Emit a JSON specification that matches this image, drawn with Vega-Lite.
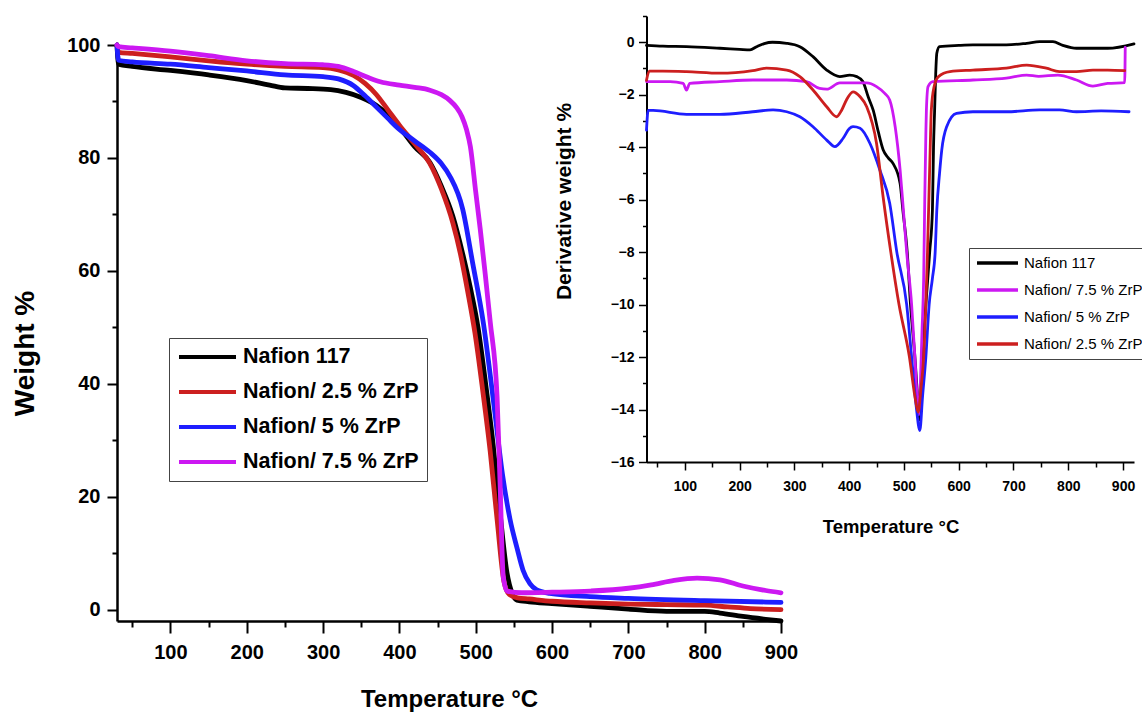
{
"$schema": "https://vega.github.io/schema/vega-lite/v6.json",
"autosize": {"type": "none"},
"padding": {"left": 117, "top": 16, "right": 8, "bottom": 91},
"width": 1017,
"height": 605,
"background": "white",
"config": {"view": {"stroke": null}, "axis": {"grid": false, "domainColor": "#000", "tickColor": "#000", "labelColor": "#000", "titleColor": "#000", "labelFlush": false, "labelOverlap": false}},
"datasets": {
"tga": [
{"s":"Nafion 117","T":30,"w":100},{"s":"Nafion 117","T":32,"w":96.6},{"s":"Nafion 117","T":50,"w":96.2},{"s":"Nafion 117","T":100,"w":95.5},{"s":"Nafion 117","T":150,"w":94.7},{"s":"Nafion 117","T":200,"w":93.7},{"s":"Nafion 117","T":230,"w":92.9},{"s":"Nafion 117","T":250,"w":92.4},{"s":"Nafion 117","T":280,"w":92.3},{"s":"Nafion 117","T":310,"w":92.1},{"s":"Nafion 117","T":330,"w":91.6},{"s":"Nafion 117","T":350,"w":90.7},{"s":"Nafion 117","T":370,"w":89.3},{"s":"Nafion 117","T":390,"w":87},{"s":"Nafion 117","T":405,"w":84.6},{"s":"Nafion 117","T":420,"w":82},{"s":"Nafion 117","T":440,"w":79.2},{"s":"Nafion 117","T":455,"w":75},{"s":"Nafion 117","T":470,"w":69.7},{"s":"Nafion 117","T":483,"w":63},{"s":"Nafion 117","T":493,"w":57},{"s":"Nafion 117","T":503,"w":50},{"s":"Nafion 117","T":513,"w":40},{"s":"Nafion 117","T":523,"w":29},{"s":"Nafion 117","T":532,"w":17},{"s":"Nafion 117","T":541,"w":6.5},{"s":"Nafion 117","T":548,"w":2.8},{"s":"Nafion 117","T":554,"w":1.7},{"s":"Nafion 117","T":570,"w":1.4},{"s":"Nafion 117","T":600,"w":1.1},{"s":"Nafion 117","T":650,"w":0.6},{"s":"Nafion 117","T":700,"w":0.1},{"s":"Nafion 117","T":750,"w":-0.3},{"s":"Nafion 117","T":800,"w":-0.3},{"s":"Nafion 117","T":820,"w":-0.6},{"s":"Nafion 117","T":850,"w":-1.2},{"s":"Nafion 117","T":880,"w":-1.7},{"s":"Nafion 117","T":900,"w":-2},
{"s":"Nafion/ 2.5 % ZrP","T":30,"w":100},{"s":"Nafion/ 2.5 % ZrP","T":32,"w":98.7},{"s":"Nafion/ 2.5 % ZrP","T":50,"w":98.5},{"s":"Nafion/ 2.5 % ZrP","T":100,"w":97.9},{"s":"Nafion/ 2.5 % ZrP","T":150,"w":97.2},{"s":"Nafion/ 2.5 % ZrP","T":200,"w":96.6},{"s":"Nafion/ 2.5 % ZrP","T":250,"w":96.2},{"s":"Nafion/ 2.5 % ZrP","T":300,"w":96.0},{"s":"Nafion/ 2.5 % ZrP","T":320,"w":95.6},{"s":"Nafion/ 2.5 % ZrP","T":340,"w":94.6},{"s":"Nafion/ 2.5 % ZrP","T":355,"w":93.2},{"s":"Nafion/ 2.5 % ZrP","T":370,"w":91.2},{"s":"Nafion/ 2.5 % ZrP","T":385,"w":88.5},{"s":"Nafion/ 2.5 % ZrP","T":400,"w":85.8},{"s":"Nafion/ 2.5 % ZrP","T":420,"w":82.5},{"s":"Nafion/ 2.5 % ZrP","T":440,"w":79},{"s":"Nafion/ 2.5 % ZrP","T":455,"w":74.5},{"s":"Nafion/ 2.5 % ZrP","T":470,"w":68.5},{"s":"Nafion/ 2.5 % ZrP","T":480,"w":63},{"s":"Nafion/ 2.5 % ZrP","T":490,"w":56},{"s":"Nafion/ 2.5 % ZrP","T":499,"w":49},{"s":"Nafion/ 2.5 % ZrP","T":509,"w":39},{"s":"Nafion/ 2.5 % ZrP","T":519,"w":28},{"s":"Nafion/ 2.5 % ZrP","T":528,"w":16},{"s":"Nafion/ 2.5 % ZrP","T":537,"w":5},{"s":"Nafion/ 2.5 % ZrP","T":544,"w":2.7},{"s":"Nafion/ 2.5 % ZrP","T":555,"w":2.1},{"s":"Nafion/ 2.5 % ZrP","T":570,"w":1.9},{"s":"Nafion/ 2.5 % ZrP","T":600,"w":1.5},{"s":"Nafion/ 2.5 % ZrP","T":650,"w":1.2},{"s":"Nafion/ 2.5 % ZrP","T":700,"w":1.0},{"s":"Nafion/ 2.5 % ZrP","T":750,"w":0.9},{"s":"Nafion/ 2.5 % ZrP","T":800,"w":0.8},{"s":"Nafion/ 2.5 % ZrP","T":830,"w":0.5},{"s":"Nafion/ 2.5 % ZrP","T":860,"w":0.2},{"s":"Nafion/ 2.5 % ZrP","T":900,"w":0},
{"s":"Nafion/ 5 % ZrP","T":30,"w":100},{"s":"Nafion/ 5 % ZrP","T":32,"w":97.3},{"s":"Nafion/ 5 % ZrP","T":50,"w":97.0},{"s":"Nafion/ 5 % ZrP","T":100,"w":96.6},{"s":"Nafion/ 5 % ZrP","T":150,"w":96.0},{"s":"Nafion/ 5 % ZrP","T":200,"w":95.4},{"s":"Nafion/ 5 % ZrP","T":250,"w":94.7},{"s":"Nafion/ 5 % ZrP","T":300,"w":94.4},{"s":"Nafion/ 5 % ZrP","T":320,"w":94.0},{"s":"Nafion/ 5 % ZrP","T":340,"w":92.8},{"s":"Nafion/ 5 % ZrP","T":355,"w":91.0},{"s":"Nafion/ 5 % ZrP","T":370,"w":89.0},{"s":"Nafion/ 5 % ZrP","T":385,"w":87.0},{"s":"Nafion/ 5 % ZrP","T":397,"w":85.4},{"s":"Nafion/ 5 % ZrP","T":420,"w":83},{"s":"Nafion/ 5 % ZrP","T":440,"w":81},{"s":"Nafion/ 5 % ZrP","T":455,"w":79},{"s":"Nafion/ 5 % ZrP","T":466,"w":76.8},{"s":"Nafion/ 5 % ZrP","T":483,"w":70.9},{"s":"Nafion/ 5 % ZrP","T":496,"w":61.4},{"s":"Nafion/ 5 % ZrP","T":510,"w":50.8},{"s":"Nafion/ 5 % ZrP","T":525,"w":35},{"s":"Nafion/ 5 % ZrP","T":535,"w":24},{"s":"Nafion/ 5 % ZrP","T":545,"w":16},{"s":"Nafion/ 5 % ZrP","T":554,"w":11},{"s":"Nafion/ 5 % ZrP","T":562,"w":7},{"s":"Nafion/ 5 % ZrP","T":571,"w":4.6},{"s":"Nafion/ 5 % ZrP","T":580,"w":3.5},{"s":"Nafion/ 5 % ZrP","T":597,"w":2.9},{"s":"Nafion/ 5 % ZrP","T":650,"w":2.3},{"s":"Nafion/ 5 % ZrP","T":700,"w":2.0},{"s":"Nafion/ 5 % ZrP","T":800,"w":1.6},{"s":"Nafion/ 5 % ZrP","T":900,"w":1.3},
{"s":"Nafion/ 7.5 % ZrP","T":30,"w":100},{"s":"Nafion/ 7.5 % ZrP","T":32,"w":99.7},{"s":"Nafion/ 7.5 % ZrP","T":50,"w":99.5},{"s":"Nafion/ 7.5 % ZrP","T":100,"w":98.9},{"s":"Nafion/ 7.5 % ZrP","T":150,"w":98.1},{"s":"Nafion/ 7.5 % ZrP","T":200,"w":97.2},{"s":"Nafion/ 7.5 % ZrP","T":250,"w":96.7},{"s":"Nafion/ 7.5 % ZrP","T":300,"w":96.5},{"s":"Nafion/ 7.5 % ZrP","T":320,"w":96.2},{"s":"Nafion/ 7.5 % ZrP","T":340,"w":95.3},{"s":"Nafion/ 7.5 % ZrP","T":360,"w":94.2},{"s":"Nafion/ 7.5 % ZrP","T":375,"w":93.5},{"s":"Nafion/ 7.5 % ZrP","T":400,"w":92.9},{"s":"Nafion/ 7.5 % ZrP","T":420,"w":92.5},{"s":"Nafion/ 7.5 % ZrP","T":440,"w":92.0},{"s":"Nafion/ 7.5 % ZrP","T":455,"w":91.2},{"s":"Nafion/ 7.5 % ZrP","T":466,"w":90.2},{"s":"Nafion/ 7.5 % ZrP","T":475,"w":88.9},{"s":"Nafion/ 7.5 % ZrP","T":482,"w":87.3},{"s":"Nafion/ 7.5 % ZrP","T":488,"w":85},{"s":"Nafion/ 7.5 % ZrP","T":493,"w":82},{"s":"Nafion/ 7.5 % ZrP","T":500,"w":74},{"s":"Nafion/ 7.5 % ZrP","T":506,"w":67.3},{"s":"Nafion/ 7.5 % ZrP","T":512,"w":60},{"s":"Nafion/ 7.5 % ZrP","T":519,"w":51},{"s":"Nafion/ 7.5 % ZrP","T":528,"w":37.7},{"s":"Nafion/ 7.5 % ZrP","T":532,"w":22},{"s":"Nafion/ 7.5 % ZrP","T":536,"w":6},{"s":"Nafion/ 7.5 % ZrP","T":541,"w":3.3},{"s":"Nafion/ 7.5 % ZrP","T":560,"w":3.0},{"s":"Nafion/ 7.5 % ZrP","T":600,"w":3.1},{"s":"Nafion/ 7.5 % ZrP","T":650,"w":3.3},{"s":"Nafion/ 7.5 % ZrP","T":700,"w":3.8},{"s":"Nafion/ 7.5 % ZrP","T":730,"w":4.4},{"s":"Nafion/ 7.5 % ZrP","T":760,"w":5.2},{"s":"Nafion/ 7.5 % ZrP","T":790,"w":5.6},{"s":"Nafion/ 7.5 % ZrP","T":820,"w":5.3},{"s":"Nafion/ 7.5 % ZrP","T":850,"w":4.2},{"s":"Nafion/ 7.5 % ZrP","T":880,"w":3.4},{"s":"Nafion/ 7.5 % ZrP","T":900,"w":3.0}
],
"dtg": [
{"s":"Nafion 117","T":30,"d":-0.12},{"s":"Nafion 117","T":60,"d":-0.15},{"s":"Nafion 117","T":103,"d":-0.17},{"s":"Nafion 117","T":164,"d":-0.23},{"s":"Nafion 117","T":200,"d":-0.27},{"s":"Nafion 117","T":219,"d":-0.29},{"s":"Nafion 117","T":231,"d":-0.17},{"s":"Nafion 117","T":245,"d":-0.05},{"s":"Nafion 117","T":260,"d":0},{"s":"Nafion 117","T":286,"d":-0.04},{"s":"Nafion 117","T":310,"d":-0.17},{"s":"Nafion 117","T":334,"d":-0.55},{"s":"Nafion 117","T":359,"d":-1.06},{"s":"Nafion 117","T":383,"d":-1.31},{"s":"Nafion 117","T":401,"d":-1.25},{"s":"Nafion 117","T":414,"d":-1.31},{"s":"Nafion 117","T":425,"d":-1.5},{"s":"Nafion 117","T":435,"d":-2.1},{"s":"Nafion 117","T":444,"d":-2.6},{"s":"Nafion 117","T":453,"d":-3.4},{"s":"Nafion 117","T":462,"d":-4.1},{"s":"Nafion 117","T":471,"d":-4.4},{"s":"Nafion 117","T":480,"d":-4.62},{"s":"Nafion 117","T":493,"d":-5.38},{"s":"Nafion 117","T":498,"d":-6.4},{"s":"Nafion 117","T":506,"d":-8},{"s":"Nafion 117","T":512,"d":-10},{"s":"Nafion 117","T":520,"d":-12},{"s":"Nafion 117","T":525,"d":-13.5},{"s":"Nafion 117","T":529,"d":-14.4},{"s":"Nafion 117","T":532,"d":-13},{"s":"Nafion 117","T":536,"d":-11.2},{"s":"Nafion 117","T":540,"d":-10},{"s":"Nafion 117","T":547,"d":-8},{"s":"Nafion 117","T":552,"d":-6.4},{"s":"Nafion 117","T":554,"d":-4},{"s":"Nafion 117","T":556,"d":-2.6},{"s":"Nafion 117","T":558,"d":-1.2},{"s":"Nafion 117","T":560,"d":-0.42},{"s":"Nafion 117","T":565,"d":-0.17},{"s":"Nafion 117","T":600,"d":-0.12},{"s":"Nafion 117","T":626,"d":-0.1},{"s":"Nafion 117","T":687,"d":-0.1},{"s":"Nafion 117","T":724,"d":-0.04},{"s":"Nafion 117","T":748,"d":0.02},{"s":"Nafion 117","T":772,"d":0.02},{"s":"Nafion 117","T":790,"d":-0.12},{"s":"Nafion 117","T":815,"d":-0.23},{"s":"Nafion 117","T":872,"d":-0.23},{"s":"Nafion 117","T":920,"d":-0.06},
{"s":"Nafion/ 7.5 % ZrP","T":30,"d":-1.5},{"s":"Nafion/ 7.5 % ZrP","T":73,"d":-1.5},{"s":"Nafion/ 7.5 % ZrP","T":97,"d":-1.57},{"s":"Nafion/ 7.5 % ZrP","T":103,"d":-1.82},{"s":"Nafion/ 7.5 % ZrP","T":109,"d":-1.57},{"s":"Nafion/ 7.5 % ZrP","T":164,"d":-1.5},{"s":"Nafion/ 7.5 % ZrP","T":224,"d":-1.44},{"s":"Nafion/ 7.5 % ZrP","T":286,"d":-1.44},{"s":"Nafion/ 7.5 % ZrP","T":322,"d":-1.5},{"s":"Nafion/ 7.5 % ZrP","T":346,"d":-1.76},{"s":"Nafion/ 7.5 % ZrP","T":359,"d":-1.79},{"s":"Nafion/ 7.5 % ZrP","T":383,"d":-1.55},{"s":"Nafion/ 7.5 % ZrP","T":407,"d":-1.55},{"s":"Nafion/ 7.5 % ZrP","T":432,"d":-1.55},{"s":"Nafion/ 7.5 % ZrP","T":450,"d":-1.69},{"s":"Nafion/ 7.5 % ZrP","T":465,"d":-1.95},{"s":"Nafion/ 7.5 % ZrP","T":474,"d":-2.2},{"s":"Nafion/ 7.5 % ZrP","T":484,"d":-3.22},{"s":"Nafion/ 7.5 % ZrP","T":493,"d":-4.87},{"s":"Nafion/ 7.5 % ZrP","T":498,"d":-6.14},{"s":"Nafion/ 7.5 % ZrP","T":505,"d":-8},{"s":"Nafion/ 7.5 % ZrP","T":514,"d":-10},{"s":"Nafion/ 7.5 % ZrP","T":520,"d":-12},{"s":"Nafion/ 7.5 % ZrP","T":524,"d":-13.5},{"s":"Nafion/ 7.5 % ZrP","T":527,"d":-14.2},{"s":"Nafion/ 7.5 % ZrP","T":530,"d":-13},{"s":"Nafion/ 7.5 % ZrP","T":533,"d":-11},{"s":"Nafion/ 7.5 % ZrP","T":536,"d":-9},{"s":"Nafion/ 7.5 % ZrP","T":538,"d":-6},{"s":"Nafion/ 7.5 % ZrP","T":540,"d":-3.5},{"s":"Nafion/ 7.5 % ZrP","T":541,"d":-2.58},{"s":"Nafion/ 7.5 % ZrP","T":544,"d":-1.69},{"s":"Nafion/ 7.5 % ZrP","T":553,"d":-1.5},{"s":"Nafion/ 7.5 % ZrP","T":626,"d":-1.44},{"s":"Nafion/ 7.5 % ZrP","T":687,"d":-1.37},{"s":"Nafion/ 7.5 % ZrP","T":724,"d":-1.25},{"s":"Nafion/ 7.5 % ZrP","T":746,"d":-1.3},{"s":"Nafion/ 7.5 % ZrP","T":781,"d":-1.25},{"s":"Nafion/ 7.5 % ZrP","T":815,"d":-1.44},{"s":"Nafion/ 7.5 % ZrP","T":845,"d":-1.67},{"s":"Nafion/ 7.5 % ZrP","T":872,"d":-1.57},{"s":"Nafion/ 7.5 % ZrP","T":903,"d":-1.54},{"s":"Nafion/ 7.5 % ZrP","T":904,"d":-0.2},
{"s":"Nafion/ 5 % ZrP","T":30,"d":-3.35},{"s":"Nafion/ 5 % ZrP","T":33,"d":-2.6},{"s":"Nafion/ 5 % ZrP","T":42,"d":-2.6},{"s":"Nafion/ 5 % ZrP","T":103,"d":-2.75},{"s":"Nafion/ 5 % ZrP","T":164,"d":-2.75},{"s":"Nafion/ 5 % ZrP","T":224,"d":-2.65},{"s":"Nafion/ 5 % ZrP","T":261,"d":-2.58},{"s":"Nafion/ 5 % ZrP","T":286,"d":-2.65},{"s":"Nafion/ 5 % ZrP","T":310,"d":-2.84},{"s":"Nafion/ 5 % ZrP","T":334,"d":-3.22},{"s":"Nafion/ 5 % ZrP","T":359,"d":-3.73},{"s":"Nafion/ 5 % ZrP","T":374,"d":-3.98},{"s":"Nafion/ 5 % ZrP","T":389,"d":-3.66},{"s":"Nafion/ 5 % ZrP","T":400,"d":-3.3},{"s":"Nafion/ 5 % ZrP","T":407,"d":-3.22},{"s":"Nafion/ 5 % ZrP","T":420,"d":-3.28},{"s":"Nafion/ 5 % ZrP","T":438,"d":-3.86},{"s":"Nafion/ 5 % ZrP","T":456,"d":-4.87},{"s":"Nafion/ 5 % ZrP","T":474,"d":-6.14},{"s":"Nafion/ 5 % ZrP","T":487,"d":-8},{"s":"Nafion/ 5 % ZrP","T":505,"d":-10},{"s":"Nafion/ 5 % ZrP","T":514,"d":-12},{"s":"Nafion/ 5 % ZrP","T":522,"d":-13.8},{"s":"Nafion/ 5 % ZrP","T":529,"d":-14.8},{"s":"Nafion/ 5 % ZrP","T":534,"d":-13.5},{"s":"Nafion/ 5 % ZrP","T":540,"d":-12},{"s":"Nafion/ 5 % ZrP","T":546,"d":-10},{"s":"Nafion/ 5 % ZrP","T":552,"d":-9},{"s":"Nafion/ 5 % ZrP","T":557,"d":-8},{"s":"Nafion/ 5 % ZrP","T":560,"d":-6.4},{"s":"Nafion/ 5 % ZrP","T":565,"d":-5},{"s":"Nafion/ 5 % ZrP","T":569,"d":-4.11},{"s":"Nafion/ 5 % ZrP","T":578,"d":-3.22},{"s":"Nafion/ 5 % ZrP","T":596,"d":-2.71},{"s":"Nafion/ 5 % ZrP","T":626,"d":-2.65},{"s":"Nafion/ 5 % ZrP","T":687,"d":-2.65},{"s":"Nafion/ 5 % ZrP","T":748,"d":-2.58},{"s":"Nafion/ 5 % ZrP","T":784,"d":-2.58},{"s":"Nafion/ 5 % ZrP","T":815,"d":-2.65},{"s":"Nafion/ 5 % ZrP","T":860,"d":-2.62},{"s":"Nafion/ 5 % ZrP","T":911,"d":-2.65},
{"s":"Nafion/ 2.5 % ZrP","T":30,"d":-1.45},{"s":"Nafion/ 2.5 % ZrP","T":35,"d":-1.1},{"s":"Nafion/ 2.5 % ZrP","T":60,"d":-1.1},{"s":"Nafion/ 2.5 % ZrP","T":103,"d":-1.12},{"s":"Nafion/ 2.5 % ZrP","T":164,"d":-1.18},{"s":"Nafion/ 2.5 % ZrP","T":224,"d":-1.08},{"s":"Nafion/ 2.5 % ZrP","T":249,"d":-0.99},{"s":"Nafion/ 2.5 % ZrP","T":286,"d":-1.06},{"s":"Nafion/ 2.5 % ZrP","T":310,"d":-1.31},{"s":"Nafion/ 2.5 % ZrP","T":334,"d":-1.82},{"s":"Nafion/ 2.5 % ZrP","T":359,"d":-2.46},{"s":"Nafion/ 2.5 % ZrP","T":377,"d":-2.84},{"s":"Nafion/ 2.5 % ZrP","T":386,"d":-2.6},{"s":"Nafion/ 2.5 % ZrP","T":395,"d":-2.2},{"s":"Nafion/ 2.5 % ZrP","T":407,"d":-1.89},{"s":"Nafion/ 2.5 % ZrP","T":420,"d":-2.08},{"s":"Nafion/ 2.5 % ZrP","T":432,"d":-2.46},{"s":"Nafion/ 2.5 % ZrP","T":450,"d":-3.86},{"s":"Nafion/ 2.5 % ZrP","T":462,"d":-5.9},{"s":"Nafion/ 2.5 % ZrP","T":476,"d":-8},{"s":"Nafion/ 2.5 % ZrP","T":491,"d":-10},{"s":"Nafion/ 2.5 % ZrP","T":510,"d":-12},{"s":"Nafion/ 2.5 % ZrP","T":520,"d":-13.5},{"s":"Nafion/ 2.5 % ZrP","T":526,"d":-14.1},{"s":"Nafion/ 2.5 % ZrP","T":531,"d":-13.2},{"s":"Nafion/ 2.5 % ZrP","T":536,"d":-12},{"s":"Nafion/ 2.5 % ZrP","T":540,"d":-10},{"s":"Nafion/ 2.5 % ZrP","T":543,"d":-8},{"s":"Nafion/ 2.5 % ZrP","T":545,"d":-6.4},{"s":"Nafion/ 2.5 % ZrP","T":548,"d":-4},{"s":"Nafion/ 2.5 % ZrP","T":550,"d":-2.58},{"s":"Nafion/ 2.5 % ZrP","T":555,"d":-1.7},{"s":"Nafion/ 2.5 % ZrP","T":563,"d":-1.31},{"s":"Nafion/ 2.5 % ZrP","T":584,"d":-1.12},{"s":"Nafion/ 2.5 % ZrP","T":626,"d":-1.06},{"s":"Nafion/ 2.5 % ZrP","T":687,"d":-0.99},{"s":"Nafion/ 2.5 % ZrP","T":724,"d":-0.87},{"s":"Nafion/ 2.5 % ZrP","T":760,"d":-0.99},{"s":"Nafion/ 2.5 % ZrP","T":784,"d":-1.12},{"s":"Nafion/ 2.5 % ZrP","T":815,"d":-1.12},{"s":"Nafion/ 2.5 % ZrP","T":845,"d":-1.06},{"s":"Nafion/ 2.5 % ZrP","T":872,"d":-1.06},{"s":"Nafion/ 2.5 % ZrP","T":903,"d":-1.08}
]
},
"layer": [
{
"data": {"name": "tga"},
"mark": {"type": "line", "strokeWidth": 4.8, "strokeCap": "round", "interpolate": "monotone"},
"encoding": {
"x": {"field": "T", "type": "quantitative",
 "scale": {"domain": [30, 900], "range": [0, 664], "nice": false, "zero": false},
 "axis": {"orient": "bottom", "values": [100, 200, 300, 400, 500, 600, 700, 800, 900], "title": "Temperature °C",
  "labelFont": "Liberation Sans, Arial, sans-serif", "labelFontSize": 20, "labelFontWeight": "bold",
  "tickSize": 12, "tickWidth": 2, "domainWidth": 2.5, "labelPadding": 9,
  "titleFont": "Liberation Sans, Arial, sans-serif", "titleFontSize": 24, "titleFontWeight": "bold",
  "titleX": 332, "titleY": 85, "titleBaseline": "alphabetic", "titleAlign": "center"}},
"y": {"field": "w", "type": "quantitative",
 "scale": {"domain": [-2, 100], "range": [605, 29], "nice": false, "zero": false},
 "axis": {"orient": "left", "values": [0, 20, 40, 60, 80, 100], "title": "Weight %",
  "labelFont": "Liberation Sans, Arial, sans-serif", "labelFontSize": 20, "labelFontWeight": "bold",
  "tickSize": 10, "tickWidth": 2, "domainWidth": 2.5, "labelPadding": 7,
  "titleFont": "Liberation Sans, Arial, sans-serif", "titleFontSize": 28, "titleFontWeight": "bold",
  "titleAngle": 270, "titleX": -84, "titleY": 337, "titleBaseline": "alphabetic", "titleAlign": "center"}},
"color": {"field": "s", "type": "nominal",
 "scale": {"domain": ["Nafion 117", "Nafion/ 2.5 % ZrP", "Nafion/ 5 % ZrP", "Nafion/ 7.5 % ZrP"], "range": ["#000000", "#cc1f1f", "#1e1eff", "#cc18f2"]},
 "legend": {"orient": "none", "legendX": 52, "legendY": 322, "title": null, "symbolType": "stroke", "symbolSize": 3249, "symbolStrokeWidth": 4,
  "labelFont": "Liberation Sans, Arial, sans-serif", "labelFontSize": 21.5, "labelFontWeight": "bold", "labelColor": "#000",
  "labelOffset": 5, "clipHeight": 22, "rowPadding": 13, "padding": 8, "strokeColor": "#444", "fillColor": "white", "labelLimit": 400}}
}
},
{
"data": {"name": "tga"},
"mark": {"type": "line", "opacity": 0},
"encoding": {
"x": {"field": "T", "type": "quantitative",
 "scale": {"domain": [30, 900], "range": [0, 664], "nice": false, "zero": false},
 "axis": {"orient": "bottom", "values": [50, 150, 250, 350, 450, 550, 650, 750, 850], "labels": false, "domain": false, "tickSize": 6, "tickWidth": 2, "title": null}},
"y": {"field": "w", "type": "quantitative",
 "scale": {"domain": [-2, 100], "range": [605, 29], "nice": false, "zero": false},
 "axis": {"orient": "left", "values": [10, 30, 50, 70, 90], "labels": false, "domain": false, "tickSize": 5, "tickWidth": 2, "title": null}}
}
},
{
"data": {"name": "dtg"},
"mark": {"type": "line", "strokeWidth": 2.8, "strokeCap": "round", "interpolate": "monotone"},
"encoding": {
"x": {"field": "T", "type": "quantitative",
 "scale": {"domain": [30, 920], "range": [529.5, 1017], "nice": false, "zero": false},
 "axis": {"orient": "bottom", "offset": -159, "values": [100, 200, 300, 400, 500, 600, 700, 800, 900], "title": "Temperature °C",
  "labelFont": "Liberation Sans, Arial, sans-serif", "labelFontSize": 14, "labelFontWeight": "bold",
  "tickSize": 8, "tickWidth": 1.5, "domainWidth": 2, "labelPadding": 9,
  "titleFont": "Liberation Sans, Arial, sans-serif", "titleFontSize": 18.5, "titleFontWeight": "bold",
  "titleX": 773.5, "titleY": 70, "titleBaseline": "alphabetic", "titleAlign": "center"}},
"y": {"field": "d", "type": "quantitative",
 "scale": {"domain": [-16, 1], "range": [446, 0], "nice": false, "zero": false},
 "axis": {"orient": "left", "offset": -529.5, "values": [0, -2, -4, -6, -8, -10, -12, -14, -16], "title": "Derivative weight %",
  "labelFont": "Liberation Sans, Arial, sans-serif", "labelFontSize": 14, "labelFontWeight": "bold",
  "tickSize": 8, "tickWidth": 1.5, "domainWidth": 2, "labelPadding": 4.5,
  "titleFont": "Liberation Sans, Arial, sans-serif", "titleFontSize": 21, "titleFontWeight": "bold",
  "titleAngle": 270, "titleX": -76.5, "titleY": 185, "titleBaseline": "alphabetic", "titleAlign": "center"}},
"color": {"field": "s", "type": "nominal",
 "scale": {"domain": ["Nafion 117", "Nafion/ 7.5 % ZrP", "Nafion/ 5 % ZrP", "Nafion/ 2.5 % ZrP"], "range": ["#000000", "#cc18f2", "#1e1eff", "#cc1f1f"]},
 "legend": {"orient": "none", "legendX": 852, "legendY": 232, "title": null, "symbolType": "stroke", "symbolSize": 1681, "symbolStrokeWidth": 3.5,
  "labelFont": "Liberation Sans, Arial, sans-serif", "labelFontSize": 15, "labelFontWeight": "normal", "labelColor": "#000",
  "labelOffset": 4, "clipHeight": 18, "rowPadding": 9, "padding": 6, "strokeColor": "#444", "fillColor": "white", "labelLimit": 400}}
}
},
{
"data": {"name": "dtg"},
"mark": {"type": "line", "opacity": 0},
"encoding": {
"x": {"field": "T", "type": "quantitative",
 "scale": {"domain": [30, 920], "range": [529.5, 1017], "nice": false, "zero": false},
 "axis": {"orient": "bottom", "offset": -159, "values": [50, 150, 250, 350, 450, 550, 650, 750, 850], "labels": false, "domain": false, "tickSize": 5, "tickWidth": 1.5, "title": null}},
"y": {"field": "d", "type": "quantitative",
 "scale": {"domain": [-16, 1], "range": [446, 0], "nice": false, "zero": false},
 "axis": {"orient": "left", "offset": -529.5, "values": [1, -1, -3, -5, -7, -9, -11, -13, -15], "labels": false, "domain": false, "tickSize": 4, "tickWidth": 1.5, "title": null}}
}
}
],
"resolve": {"scale": {"x": "independent", "y": "independent", "color": "independent"}, "axis": {"x": "independent", "y": "independent"}, "legend": {"color": "independent"}}
}
